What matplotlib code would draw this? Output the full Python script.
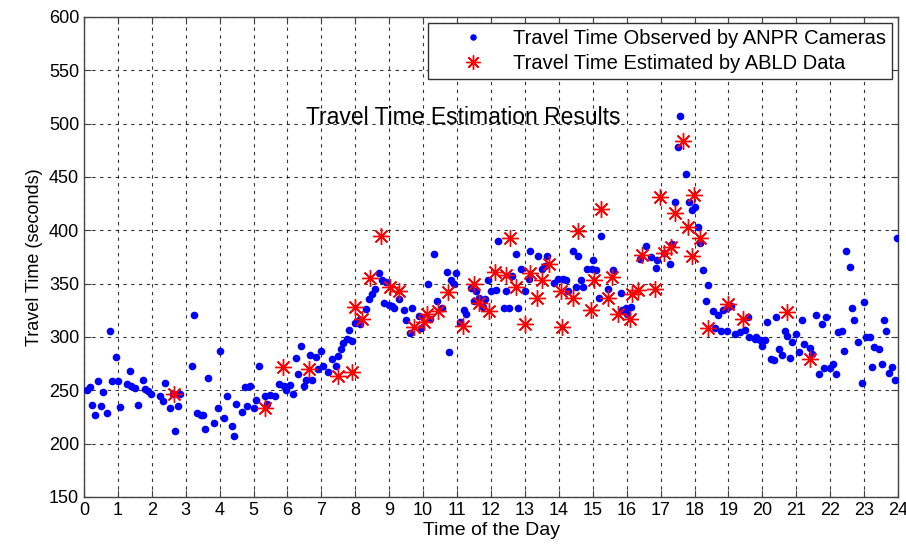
import matplotlib.pyplot as plt

# observed (ANPR) travel times: hour of day, seconds
obs_hour = [0.10, 0.17, 0.25, 0.33, 0.41, 0.49, 0.56, 0.69, 0.76, 0.84, 0.93, 0.99,
            1.07, 1.28, 1.35, 1.38, 1.50, 1.60, 1.74, 1.79, 1.89, 1.99,
            2.24, 2.33, 2.40, 2.53, 2.63, 2.68, 2.76, 2.83,
            3.19, 3.25, 3.32, 3.45, 3.52, 3.57, 3.67, 3.84, 3.94,
            4.00, 4.13, 4.23, 4.35, 4.42, 4.49, 4.66, 4.74, 4.82, 4.89,
            5.01, 5.08, 5.15, 5.33, 5.40, 5.48, 5.62, 5.74, 5.90, 5.97,
            6.06, 6.16, 6.26, 6.31, 6.39, 6.49, 6.56, 6.66, 6.72, 6.83, 6.90,
            7.00, 7.05, 7.20, 7.30, 7.42, 7.50, 7.58, 7.65, 7.75, 7.82, 7.90,
            8.00, 8.10, 8.15, 8.32, 8.39, 8.49, 8.59, 8.69, 8.79, 8.84, 8.91, 8.98,
            9.08, 9.13, 9.28, 9.43, 9.50, 9.60, 9.67, 9.87, 9.94,
            10.15, 10.20, 10.33, 10.41, 10.56, 10.69, 10.75, 10.83, 10.90, 10.98,
            11.10, 11.20, 11.27, 11.41, 11.51, 11.57, 11.64, 11.77, 11.82, 11.91,
            12.00, 12.14, 12.22, 12.37, 12.44, 12.53, 12.63, 12.73, 12.81, 12.89,
            13.01, 13.11, 13.16, 13.39, 13.49, 13.60, 13.65, 13.85, 13.98,
            14.12, 14.20, 14.28, 14.42, 14.50, 14.57, 14.64, 14.71, 14.84, 14.97,
            15.00, 15.09, 15.17, 15.24, 15.44, 15.60, 15.82, 15.86, 15.98,
            16.02, 16.12, 16.40, 16.56, 16.71, 16.85, 16.90,
            17.09, 17.28, 17.35, 17.42, 17.52, 17.58, 17.75, 17.85, 17.94,
            18.01, 18.11, 18.17, 18.24, 18.34, 18.41, 18.54, 18.59, 18.69, 18.79,
            18.83, 18.96, 18.96,
            19.08, 19.18, 19.33, 19.48, 19.57, 19.62, 19.77, 19.80, 19.92, 19.98,
            20.07, 20.15, 20.25, 20.34, 20.41, 20.49, 20.57, 20.67, 20.74, 20.81, 20.88,
            21.00, 21.08, 21.16, 21.23, 21.40, 21.47, 21.59, 21.67, 21.75, 21.82, 21.89, 21.99,
            22.07, 22.16, 22.24, 22.34, 22.41, 22.48, 22.58, 22.65, 22.70, 22.83, 22.93,
            23.00, 23.07, 23.17, 23.23, 23.29, 23.44, 23.52, 23.59, 23.66, 23.73, 23.81,
            23.90, 23.98]
obs_time = [250, 253, 236, 227, 259, 235, 248, 229, 306, 259, 281, 259,
            234, 256, 268, 254, 252, 236, 260, 251, 249, 247,
            245, 240, 257, 233, 247, 212, 235, 247,
            273, 321, 229, 227, 227, 214, 262, 219, 233,
            287, 224, 245, 217, 207, 237, 230, 253, 235, 254,
            233, 241, 273, 245, 237, 246, 245, 256, 254, 250,
            255, 247, 280, 265, 292, 254, 260, 283, 260, 281, 270,
            287, 273, 267, 279, 273, 282, 289, 294, 298, 307, 296,
            313, 316, 312, 326, 336, 340, 345, 360, 353, 332, 352, 330,
            329, 327, 336, 325, 316, 304, 327, 320, 308,
            350, 317, 378, 334, 327, 361, 286, 353, 350, 360,
            314, 325, 322, 346, 334, 343, 337, 328, 336, 353,
            343, 344, 390, 327, 343, 327, 357, 378, 327, 364,
            343, 354, 381, 376, 364, 367, 376, 351, 354,
            354, 353, 343, 381, 347, 376, 353, 347, 364, 364,
            372, 363, 337, 395, 345, 363, 341, 325, 327,
            322, 328, 373, 385, 375, 365, 372,
            379, 368, 387, 427, 478, 507, 453, 427, 419,
            422, 403, 388, 363, 334, 349, 324, 308, 321, 306,
            325, 327, 306,
            329, 303, 305, 307, 319, 300, 298, 300, 297, 292,
            297, 314, 279, 278, 319, 289, 283, 306, 301, 280, 295,
            303, 286, 316, 293, 290, 284, 321, 265, 312, 271, 319, 271,
            275, 265, 305, 306, 287, 381, 366, 327, 316, 295, 257,
            333, 300, 300, 272, 291, 289, 275, 316, 306, 266, 272,
            260, 393]

# estimated (ABLD) travel times
est_hour = [2.66, 5.33, 5.87, 6.64, 7.50, 7.89, 8.00, 8.20, 8.42, 8.76,
            9.01, 9.28, 9.74, 10.02, 10.10, 10.43, 10.74, 11.17, 11.49, 11.64, 11.95,
            12.12, 12.44, 12.56, 12.73, 12.99, 13.16, 13.36, 13.49, 13.72,
            14.05, 14.08, 14.42, 14.57, 14.94, 15.03, 15.24, 15.44, 15.58, 15.73,
            16.09, 16.17, 16.32, 16.46, 16.83, 16.99, 17.09, 17.30, 17.42, 17.65,
            17.80, 17.92, 17.99, 18.17, 18.41, 19.00, 19.43, 20.74, 21.40]
est_time = [247, 233, 272, 270, 263, 267, 328, 317, 355, 395,
            347, 343, 309, 314, 322, 324, 342, 310, 350, 332, 324,
            361, 358, 393, 347, 312, 360, 337, 353, 368,
            343, 309, 337, 399, 325, 353, 420, 337, 356, 322,
            317, 340, 344, 377, 345, 431, 379, 384, 416, 484,
            403, 376, 433, 393, 308, 331, 317, 323, 279]

plt.rcParams['font.family'] = ['Liberation Sans', 'DejaVu Sans']

fig = plt.figure(figsize=(9.06, 5.44), dpi=100)
ax = fig.add_axes([0.0927, 0.0864, 0.8985, 0.8824])

ax.plot(obs_hour, obs_time, 'o', color='blue', markersize=5.5, markeredgewidth=0,
        label='Travel Time Observed by ANPR Cameras', zorder=3)
ax.plot(est_hour, est_time, linestyle='none', marker=(8, 2, 0), color='red',
        markersize=12, markeredgewidth=1.0,
        label='Travel Time Estimated by ABLD Data', zorder=4)

ax.set_xlim(0, 24)
ax.set_ylim(150, 600)
ax.set_xticks(range(0, 25))
ax.set_yticks(range(150, 601, 50))
ax.tick_params(direction='in', top=True, right=True, labelsize=13, length=5,
               color='#444444')
ax.grid(True, color='black', linestyle=(0, (3, 4)), linewidth=0.8, alpha=0.8)
for s in ax.spines.values():
    s.set_linewidth(1.0)
    s.set_color('#444444')

ax.set_xlabel('Time of the Day', fontsize=14, labelpad=2)
ax.set_ylabel('Travel Time (seconds)', fontsize=13, labelpad=4)
ax.text(11.17, 506, 'Travel Time Estimation Results', fontsize=16.5,
        ha='center', va='center')

leg = ax.legend(loc='upper right', fontsize=14.5, fancybox=False, framealpha=1,
                edgecolor='#333333', borderaxespad=0.3, handletextpad=0.1,
                borderpad=0.3, labelspacing=0.3, handlelength=3.8, markerscale=0.85)
leg.get_frame().set_linewidth(1.0)

fig.savefig('out.png', dpi=100)
